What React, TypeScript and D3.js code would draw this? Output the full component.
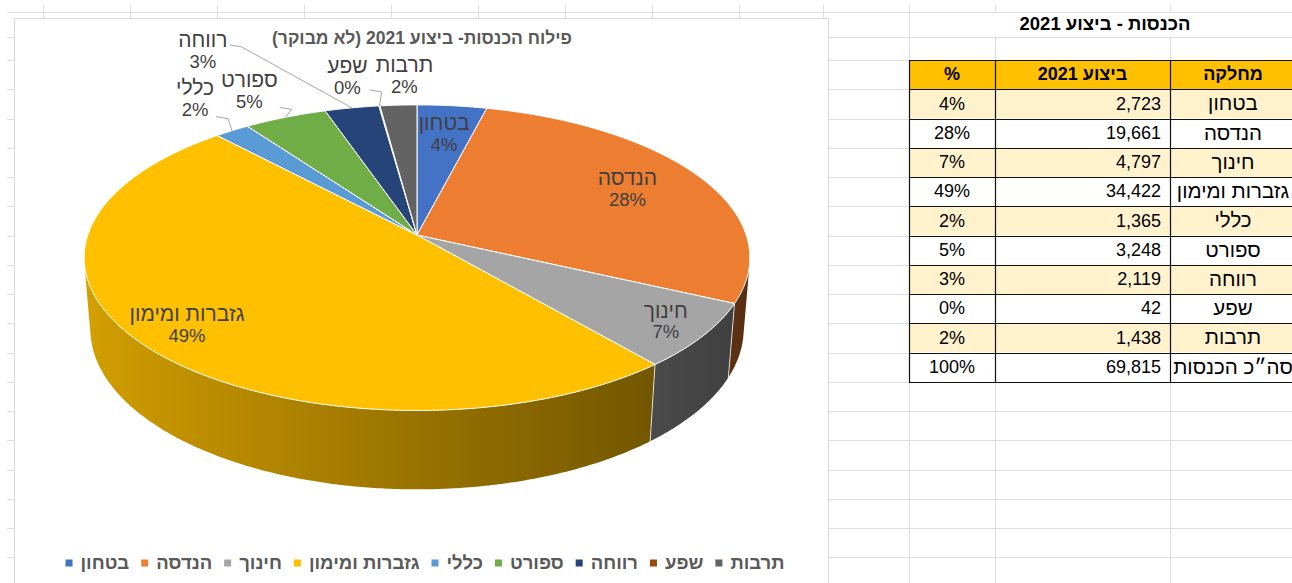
import React, { useEffect, useRef } from 'react';
import * as d3 from 'd3';

// ---------- data ----------
const departments = ['בטחון', 'הנדסה', 'חינוך', 'גזברות ומימון', 'כללי', 'ספורט', 'רווחה', 'שפע', 'תרבות'];
const values = [2723, 19661, 4797, 34422, 1365, 3248, 2119, 42, 1438];
const colors = ['#4472C4', '#ED7D31', '#A5A5A5', '#FFC000', '#5B9BD5', '#70AD47', '#264478', '#9E480E', '#636363'];
const chartTitle = 'פילוח הכנסות- ביצוע 2021 (לא מבוקר)';
const tableTitle = 'הכנסות - ביצוע 2021';
const tableHeaders = ['%', 'ביצוע 2021', 'מחלקה'];
const totalLabel = 'סה״כ הכנסות';

// ---------- label layout ----------
const labelInside = [true, true, true, true, false, false, false, false, false];
const insideR = [0.75, 0.74, 0.88, 0.85, 0, 0, 0, 0, 0];
const outsideOffset: [number, number][] = [[0, 0], [0, 0], [0, 0], [0, 0], [-37, -31], [-36, -25], [-149, -56], [-32, -28], [6, -28]];
const leaderDy: (number | null)[] = [null, null, null, null, 17, 15, -7, 12, null];

const FONT = "'Liberation Sans', 'DejaVu Sans', Arial, sans-serif";

export default function App() {
  const ref = useRef<SVGSVGElement>(null);

  useEffect(() => {
    const svg = d3.select(ref.current as SVGSVGElement);
    svg.selectAll('*').remove();
    const W = 1292, H = 583;
    svg.append('rect').attr('width', W).attr('height', H).attr('fill', '#fff');

    // ---------- spreadsheet grid ----------
    const gridColor = '#DEDEDE';
    const colX = [43, 130, 217, 304, 391, 478, 565, 652, 739, 823, 909, 995, 1170];
    const rowY = [12, 37, ...d3.range(0, 19).map(i => 60 + i * 29.25)];
    const grid = svg.append('g');
    colX.forEach(x => grid.append('line').attr('x1', x + 0.5).attr('x2', x + 0.5).attr('y1', 5).attr('y2', H).attr('stroke', gridColor));
    rowY.forEach(y => grid.append('line').attr('x1', 7).attr('x2', W).attr('y1', Math.round(y) + 0.5).attr('y2', Math.round(y) + 0.5).attr('stroke', gridColor));

    // ---------- chart area ----------
    svg.append('rect').attr('x', 14.5).attr('y', 18.5).attr('width', 814).attr('height', 620)
      .attr('fill', '#fff').attr('stroke', '#D9D9D9');

    svg.append('text').attr('x', 422).attr('y', 39).attr('direction', 'rtl').attr('text-anchor', 'middle')
      .attr('dominant-baseline', 'middle').attr('font-family', FONT).attr('font-size', 17.5).attr('font-weight', 'bold')
      .attr('fill', '#595959').text(chartTitle);

    // ---------- 3D pie ----------
    const pie = d3.pie<number>().sort(null).value(d => d)(values);
    const total = d3.sum(values);
    const pct = d3.format('.0%');
    const Dst = 6, alpha = 27 * Math.PI / 180, Fc = 1975, CX = 417, CY = 235, TH = 0.245;
    const proj = (t: number, r: number, h: number): [number, number] => {
      const X = r * Math.sin(t), Z = -r * Math.cos(t);
      const ycam = h * Math.cos(alpha) - Z * Math.sin(alpha);
      const zcam = h * Math.sin(alpha) + Z * Math.cos(alpha);
      const d = Dst - zcam;
      return [CX + X * Fc / d, CY - ycam * Fc / d];
    };
    const step = Math.PI / 360;
    const arcPts = (a: number, b: number, r: number, h: number) => {
      const n = Math.max(2, Math.ceil((b - a) / step));
      return d3.range(n + 1).map(i => proj(a + (b - a) * i / n, r, h));
    };
    const visA = Math.acos(-1 / (Dst * Math.cos(alpha)));
    const visB = 2 * Math.PI - visA;
    const defs = svg.append('defs');
    const sideG = svg.append('g');
    const line = d3.line();
    pie.forEach((p, i) => {
      const a = Math.max(p.startAngle, visA), b = Math.min(p.endAngle, visB);
      if (b <= a) return;
      const top = arcPts(a, b, 1, 0);
      const bot = arcPts(a, b, 1, -TH).reverse();
      const gid = 'side' + i;
      const xa = proj(a, 1, 0)[0], xb = proj(b, 1, 0)[0];
      const flat = Math.abs(xb - xa) < 0.5;
      const grad = defs.append('linearGradient').attr('id', gid).attr('gradientUnits', 'userSpaceOnUse')
        .attr('x1', xa).attr('x2', flat ? xa - 1 : xb).attr('y1', 0).attr('y2', 0);
      const N = 16;
      const base = d3.rgb(colors[i]);
      for (let k = 0; k <= N; k++) {
        const t = a + (b - a) * k / N;
        const x = proj(t, 1, 0)[0];
        const off = flat ? k / N : (x - xa) / (xb - xa);
        const br = 0.6 - 0.24 * Math.sin(t);
        grad.append('stop').attr('offset', Math.max(0, Math.min(1, off)))
          .attr('stop-color', d3.rgb(base.r * br, base.g * br, base.b * br).formatHex());
      }
      sideG.append('path').attr('d', line([...top, ...bot]) + 'Z').attr('fill', `url(#${gid})`);
    });
    pie.forEach(p => {
      const t = p.endAngle;
      if (t > visA && t < visB) {
        const [x1, y1] = proj(t, 1, 0), [x2, y2] = proj(t, 1, -TH);
        sideG.append('line').attr('x1', x1).attr('y1', y1).attr('x2', x2).attr('y2', y2)
          .attr('stroke', '#fff').attr('stroke-opacity', 0.75).attr('stroke-width', 1);
      }
    });
    const topG = svg.append('g');
    pie.forEach((p, i) => {
      const pts = [proj(0, 0, 0), ...arcPts(p.startAngle, p.endAngle, 1, 0)];
      topG.append('path').attr('d', line(pts) + 'Z').attr('fill', colors[i])
        .attr('stroke', '#fff').attr('stroke-width', 1).attr('stroke-linejoin', 'round');
    });

    // labels
    const labG = svg.append('g');
    pie.forEach((p, i) => {
      const mid = (p.startAngle + p.endAngle) / 2;
      let cx: number, cy: number;
      if (labelInside[i]) {
        [cx, cy] = proj(mid, insideR[i], 0);
      } else {
        const [ax, ay] = proj(mid, 1, 0);
        cx = ax + outsideOffset[i][0];
        cy = ay + outsideOffset[i][1];
      }
      const t1 = labG.append('text').attr('x', cx).attr('y', cy - 10.5).attr('direction', 'rtl').attr('text-anchor', 'middle')
        .attr('dominant-baseline', 'middle').attr('font-family', FONT).attr('font-size', 21).attr('fill', '#404040')
        .text(departments[i]);
      const t2 = labG.append('text').attr('x', cx).attr('y', cy + 11).attr('text-anchor', 'middle')
        .attr('dominant-baseline', 'middle').attr('font-family', FONT).attr('font-size', 18.5).attr('fill', '#404040')
        .text(pct(values[i] / total));
      const dy = leaderDy[i];
      if (!labelInside[i] && dy !== null) {
        const w = Math.max((t1.node() as SVGTextElement).getComputedTextLength(), (t2.node() as SVGTextElement).getComputedTextLength());
        const sx = cx + w / 2 + 2, sy = cy + dy;
        const [ax, ay] = proj(mid, 1, 0);
        labG.append('path').attr('d', line([[sx, sy], [sx + 12, sy + 2], [ax, ay]]))
          .attr('fill', 'none').attr('stroke', '#A6A6A6').attr('stroke-width', 1);
      }
    });

    // legend
    const legG = svg.append('g');
    const items = departments.map((name, i) => {
      const t = legG.append('text').attr('y', 564).attr('direction', 'rtl').attr('text-anchor', 'start')
        .attr('dominant-baseline', 'middle').attr('font-family', FONT).attr('font-size', 18.5).attr('font-weight', 'bold')
        .attr('fill', '#595959').text(name);
      return { t, w: (t.node() as SVGTextElement).getComputedTextLength(), i };
    });
    const mk = 7, gapMk = 8, gapItem = 12;
    const totalW = d3.sum(items, d => mk + gapMk + d.w) + gapItem * (items.length - 1);
    let lx = 425 - totalW / 2;
    items.forEach(d => {
      legG.append('rect').attr('x', lx).attr('y', 563 - mk / 2).attr('width', mk).attr('height', mk).attr('fill', colors[d.i]);
      d.t.attr('x', lx + mk + gapMk + d.w);
      lx += mk + gapMk + d.w + gapItem;
    });

    // ---------- table ----------
    const tG = svg.append('g');
    tG.append('rect').attr('x', 910).attr('y', 13).attr('width', 400).attr('height', 24).attr('fill', '#fff');
    tG.append('text').attr('x', 1105).attr('y', 25).attr('direction', 'rtl').attr('text-anchor', 'middle')
      .attr('dominant-baseline', 'middle').attr('font-family', FONT).attr('font-size', 18.5).attr('font-weight', 'bold')
      .attr('fill', '#000').text(tableTitle);
    const colEdges = [909, 995, 1170, 1296];
    const rowH = 29.25, top0 = 60;
    const rows = [...departments.map((d, i) => ({ name: d, v: values[i] })), { name: totalLabel, v: total }];
    const nRows = rows.length + 1;
    tG.append('rect').attr('x', colEdges[0]).attr('y', top0).attr('width', colEdges[3] - colEdges[0]).attr('height', rowH).attr('fill', '#FFC000');
    rows.forEach((r, k) => {
      const y = top0 + rowH * (k + 1);
      tG.append('rect').attr('x', colEdges[0]).attr('y', y).attr('width', colEdges[3] - colEdges[0]).attr('height', rowH)
        .attr('fill', k % 2 === 0 && k < rows.length - 1 ? '#FFF2CC' : '#fff');
    });
    tableHeaders.forEach((h, c) => {
      tG.append('text').attr('x', (colEdges[c] + colEdges[c + 1]) / 2).attr('y', top0 + rowH / 2 + 1)
        .attr('direction', 'rtl').attr('text-anchor', 'middle').attr('dominant-baseline', 'middle')
        .attr('font-family', FONT).attr('font-size', 18).attr('font-weight', 'bold').attr('fill', '#000').text(h);
    });
    const num = d3.format(',');
    rows.forEach((r, k) => {
      const yc = top0 + rowH * (k + 1) + rowH / 2 + 1;
      tG.append('text').attr('x', (colEdges[0] + colEdges[1]) / 2).attr('y', yc).attr('text-anchor', 'middle')
        .attr('dominant-baseline', 'middle').attr('font-family', FONT).attr('font-size', 18).attr('fill', '#000')
        .text(pct(r.v / total));
      tG.append('text').attr('x', colEdges[2] - 9).attr('y', yc).attr('text-anchor', 'end')
        .attr('dominant-baseline', 'middle').attr('font-family', FONT).attr('font-size', 18).attr('fill', '#000')
        .text(num(r.v));
      tG.append('text').attr('x', (colEdges[2] + colEdges[3]) / 2).attr('y', yc).attr('direction', 'rtl').attr('text-anchor', 'middle')
        .attr('dominant-baseline', 'middle').attr('font-family', FONT).attr('font-size', 20.5).attr('fill', '#000')
        .text(r.name);
    });
    const bc = '#111';
    for (let k = 0; k <= nRows; k++) {
      const y = Math.round(top0 + rowH * k) + 0.5;
      tG.append('line').attr('x1', colEdges[0]).attr('x2', W).attr('y1', y).attr('y2', y).attr('stroke', bc).attr('stroke-width', 1.2);
    }
    colEdges.slice(0, 3).forEach(x => {
      tG.append('line').attr('x1', x + 0.5).attr('x2', x + 0.5).attr('y1', top0).attr('y2', Math.round(top0 + rowH * nRows) + 1)
        .attr('stroke', bc).attr('stroke-width', 1.2);
    });
  }, []);

  return <svg ref={ref} width={1292} height={583} style={{ position: 'absolute', left: 0, top: 0, display: 'block' }} />;
}
